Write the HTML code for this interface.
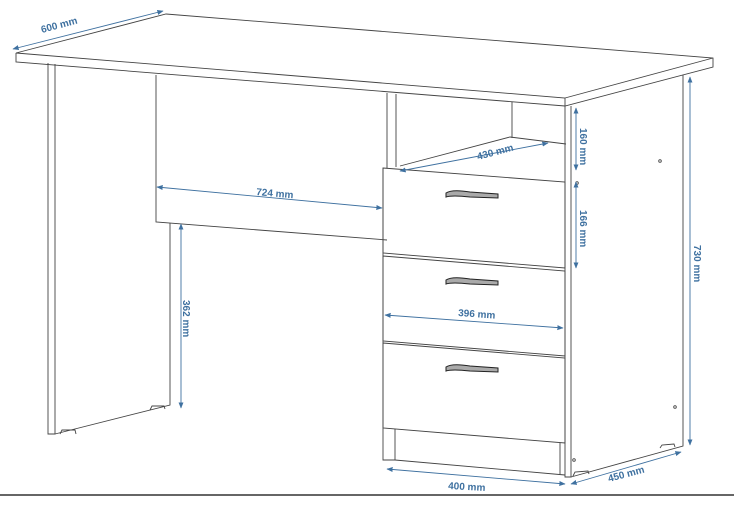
<!DOCTYPE html>
<html><head><style>body{margin:0;background:#fff}svg{display:block}text{font-family:"Liberation Sans",sans-serif;font-size:10px;font-weight:bold;fill:#3f71a0}</style></head>
<body>
<svg width="734" height="506" viewBox="0 0 734 506" xmlns="http://www.w3.org/2000/svg">
<defs><marker id="a" viewBox="0 0 10 10" refX="9" refY="5" markerWidth="7" markerHeight="7" orient="auto-start-reverse"><path d="M0,1 L10,5 L0,9 z" fill="#3f71a0"/></marker></defs>
<g fill="none" stroke="#444" stroke-width="0.9">
<path d="M16,53 L166,14 L713,58 L713,67 L565,106 L565,98 L16,53 Z"/>
<path d="M16,53 L16,62 L565,106"/>
<path d="M565,98 L713,58"/>
<path d="M48,63 L48,434 L55,434 L55,64"/>
<path d="M55,434 L170,405 L170,223"/>
<path d="M60,434 L62,430 L75,430 L76,434"/><path d="M150,410 L152,406 L164,406 L165,409"/>
<path d="M156,75 L156,222 L387,240"/>
<path d="M387,93 L387,168 M396,94 L396,167"/>
<path d="M512,102 L512,138"/>
<path d="M400,166 L510,137 L566,144"/>
<path d="M383,168 L565,182 L565,268 L383,253 Z"/>
<path d="M383,256 L565,271 L565,356 L383,341 Z"/>
<path d="M383,343 L565,358 L565,443 L383,428 Z"/>
<path d="M383,168 L383,460 L395,460 L395,429"/>
<path d="M395,460 L565,475"/>
<path d="M560,443 L560,474"/>
<path d="M565,106 L565,477 L571,477 L571,106"/>
<path d="M571,477 L683,446 L683,75"/>
<path d="M573,476 L575,472 L588,471 L589,474"/><path d="M660,448 L662,445 L674,444 L675,447"/>
<circle cx="660" cy="161" r="1.3"/><circle cx="577" cy="183" r="1.3"/><circle cx="675" cy="407" r="1.3"/><circle cx="574" cy="460" r="1.3"/>
</g>
<g fill="#aaa" stroke="#222" stroke-width="1">
<path d="M446,193 Q452,189 470,192 L498,194 L498,198 L470,197 Q452,195 446,197 Z"/>
<path d="M446,280 Q452,276 470,279 L498,281 L498,285 L470,284 Q452,282 446,284 Z"/>
<path d="M446,367 Q452,363 470,366 L498,368 L498,372 L470,371 Q452,369 446,371 Z"/>
</g>
<g stroke="#3f71a0" stroke-width="0.9" marker-start="url(#a)" marker-end="url(#a)">
<line x1="13" y1="49" x2="163" y2="11"/>
<line x1="157" y1="187" x2="382" y2="208"/>
<line x1="400" y1="171" x2="548" y2="143"/>
<line x1="576" y1="108" x2="576" y2="170"/>
<line x1="576" y1="182" x2="576" y2="268"/>
<line x1="690" y1="77" x2="690" y2="445"/>
<line x1="181" y1="224" x2="181" y2="408"/>
<line x1="385" y1="315" x2="563" y2="328"/>
<line x1="387" y1="469" x2="565" y2="484"/>
<line x1="571" y1="484" x2="681" y2="452"/>
</g>
<text transform="translate(42,33) rotate(-15)">600 mm</text>
<text transform="translate(256,195) rotate(5)">724 mm</text>
<text transform="translate(478,160) rotate(-15)">430 mm</text>
<text transform="translate(580,128) rotate(90)">160 mm</text>
<text transform="translate(580,210) rotate(90)">166 mm</text>
<text transform="translate(694,245) rotate(90)">730 mm</text>
<text transform="translate(183,300) rotate(90)">362 mm</text>
<text transform="translate(458,316) rotate(4)">396 mm</text>
<text transform="translate(448,489) rotate(3)">400 mm</text>
<text transform="translate(609,482) rotate(-15)">450 mm</text>
<line x1="0" y1="495" x2="734" y2="495" stroke="#333" stroke-width="1.5"/>
</svg>
</body></html>
